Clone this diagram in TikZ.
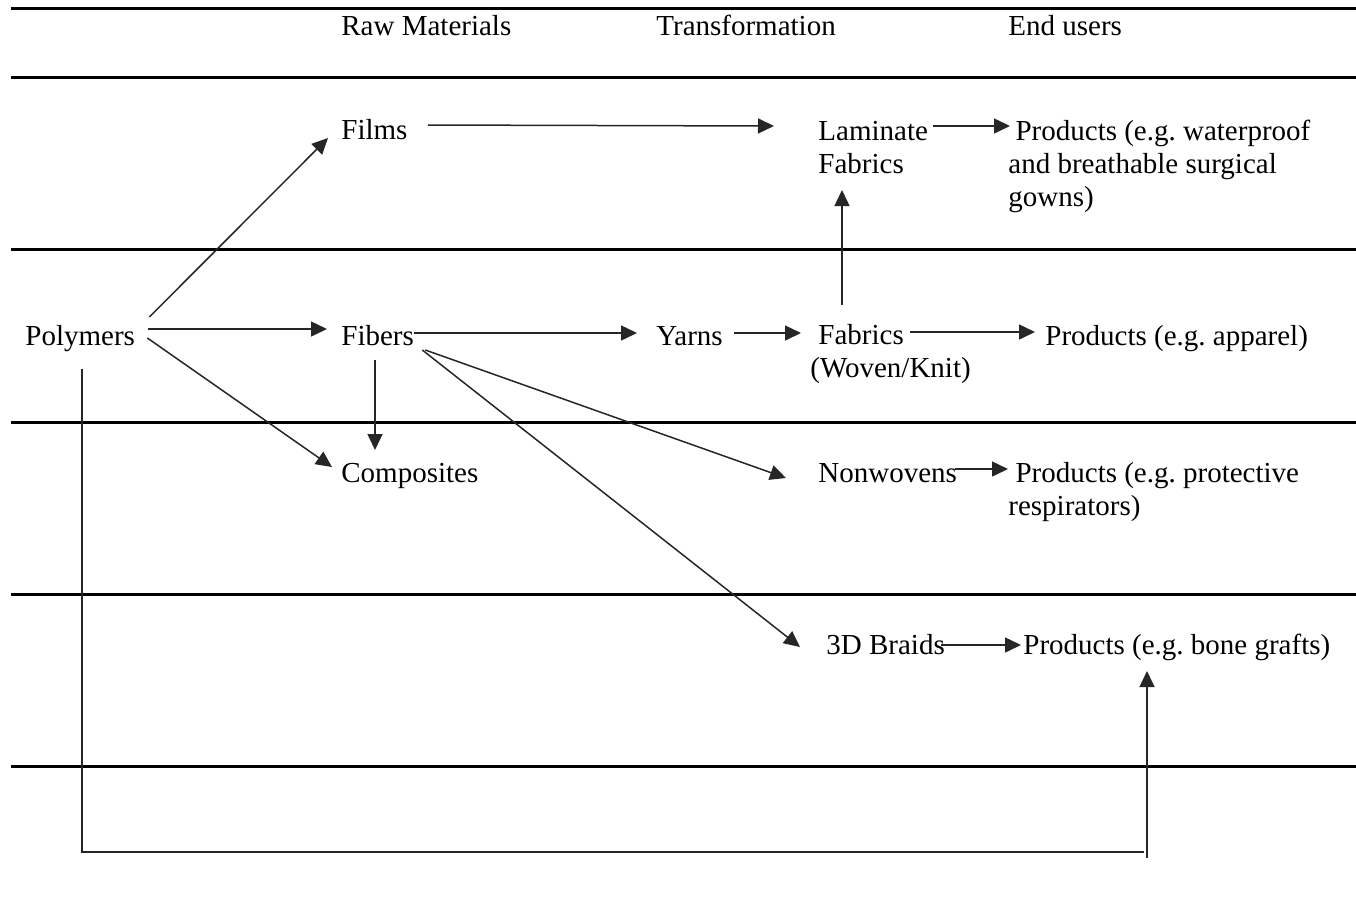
\documentclass[tikz,border=0pt]{standalone}
\usepackage{fontspec}
\setmainfont{Liberation Serif}
\frenchspacing
\usetikzlibrary{arrows.meta,calc}
\tikzset{
  lbl/.style={inner sep=0pt, anchor=base west, align=left,
    font=\fontsize{14.5}{16.5}\selectfont},
  rule/.style={line width=1.5pt, black},
  conn/.style={line width=0.75pt, black!85},
  arr/.style={conn, -{Triangle[length=8pt,width=7.5pt]}}
}
\begin{document}
\begin{tikzpicture}[x=0.5pt,y=-0.5pt]
\useasboundingbox (0,0) rectangle (1356,918);

% horizontal rules of the table
\foreach \yy in {8,77,249,422,594,766}
  \draw[rule] (11,\yy) -- (1356,\yy);

% column headers
\node[lbl] (hraw)   at (341,35)  {Raw Materials};
\node[lbl] (htrans) at (656,35)  {Transformation};
\node[lbl] (hend)   at (1008,35) {End users};

% labels (multi-line labels sit on the baseline of their last line)
\node[lbl] (films) at (341,139)  {Films};
\node[lbl] (lam)   at (818,173)  {Laminate\\Fabrics};
\node[lbl] (pwat)  at (1008,206) {\hspace{3.6pt}Products (e.g. waterproof\\and breathable surgical\\gowns)};
\node[lbl] (poly)  at (25,345)   {Polymers};
\node[lbl] (fib)   at (341,345)  {Fibers};
\node[lbl] (yarns) at (656,345)  {Yarns};
\node[lbl] (fab)   at (810,377)  {\hspace{4pt}Fabrics\\(Woven/Knit)};
\node[lbl] (papp)  at (1045,345) {Products (e.g. apparel)};
\node[lbl] (comp)  at (341,482)  {Composites};
\node[lbl] (nonw)  at (818,482)  {Nonwovens};
\node[lbl] (pres)  at (1008,515) {\hspace{3.6pt}Products (e.g. protective\\respirators)};
\node[lbl] (braid) at (826,654)  {3D Braids};
\node[lbl] (pbone) at (1023,654) {Products (e.g. bone grafts)};

% polymers
\draw[arr] ($(poly.base east)+(14,-28)$) -- ($(films.base west)+(-13,-1)$);
\draw[arr] ($(poly.base east)+(13,-16)$) -- ($(fib.base west)+(-14,-16)$);
\draw[arr] ($(poly.base east)+(12,-7)$)  -- ($(comp.base west)+(-9,-15)$);

% films route
\draw[arr] ($(films.base east)+(20,-14)$) -- ($(lam.base west)+(-44,-47)$);
\draw[arr] ($(lam.base west)+(115,-47)$) -- ($(pwat.base west)+(2,-80)$);

% fibers route
\draw[arr] ($(fib.base east)+(0,-12)$) -- ($(yarns.base west)+(-19,-12)$);
\draw[arr] ($(yarns.base east)+(11,-12)$) -- ($(fab.base west)+(-9,-44)$);
\draw[arr] ($(fab.base west)+(100,-45)$) -- ($(papp.base west)+(-10,-13)$);
\draw[arr] ($(fab.base west)+(32,-72)$) -- ($(lam.base west)+(24,17)$);
\draw[arr] ($(fib.base west)+(34,15)$) -- ($(comp.base west)+(34,-32)$);
\draw[arr] ($(fib.base east)+(11,5)$) -- ($(nonw.base west)+(-32,-4)$);
\draw[arr] ($(fib.base east)+(8,5)$) -- ($(braid.base west)+(-26,-7)$);

% products
\draw[arr] ($(nonw.base east)+(-2,-13)$) -- ($(pres.base west)+(0,-46)$);
\draw[arr] ($(braid.base east)+(-4,-9)$) -- ($(pbone.base west)+(-2,-9)$);

% direct route from polymers to bone grafts
\coordinate (cl) at ($(poly.base west)+(57,24)$);
\coordinate (cr) at ($(pbone.base west)+(121,198)$);
\coordinate (cb) at ($(pbone.base west)+(124,204)$);
\draw[conn] (cl) |- (cr);
\draw[arr] (cb) -- ($(pbone.base west)+(124,17)$);
\end{tikzpicture}
\end{document}
